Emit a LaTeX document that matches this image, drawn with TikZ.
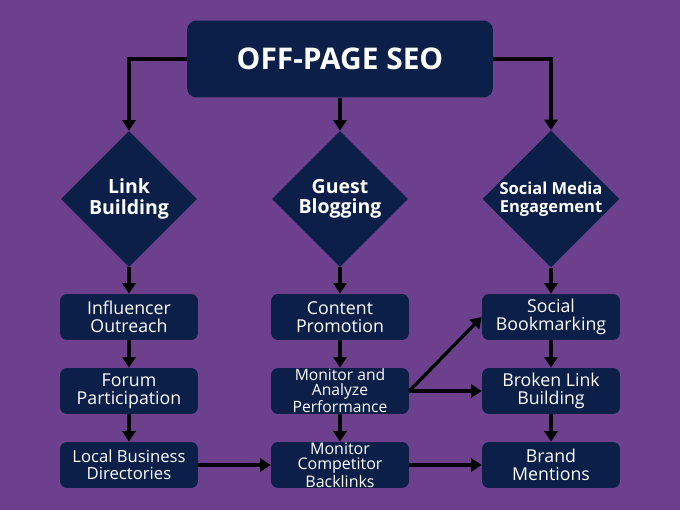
\documentclass[tikz,border=0pt]{standalone}
\usepackage{fontspec}
\setmainfont{Open Sans}
\usepackage{tikz}
\usetikzlibrary{arrows.meta,shapes.geometric}
\usepackage{xcolor}
\definecolor{bgpurple}{RGB}{108,64,140}
\definecolor{navyblue}{RGB}{11,31,72}

\begin{document}
\begin{tikzpicture}[x=0.02cm,y=-0.02cm,>={Triangle[length=6pt,width=7.5pt]},
  flow/.style={->,line width=1.9pt,black},
  task/.style={fill=navyblue,rounded corners=4pt,minimum width=2.76cm,minimum height=0.92cm,
    inner sep=0pt,text=white,align=center,font=\fontsize{10.1}{10.4}\selectfont},
  choice/.style={diamond,fill=navyblue,shape aspect=1,minimum size=2.72cm,inner sep=0pt,
    text=white,align=center,font=\bfseries\fontsize{11.1}{11.6}\selectfont}]
  % Background
  \fill[bgpurple] (0,0) rectangle (680,510);
  \useasboundingbox (0,0) rectangle (680,510);

  % Title
  \node[fill=navyblue,rounded corners=5.5pt,minimum width=6.12cm,minimum height=1.54cm,
        text=white,font=\bfseries\fontsize{17}{20}\selectfont] (seo) at (340,59) {OFF-PAGE SEO};

  % Strategies
  \node[choice] (link) at (129,199) {Link\\Building};
  \node[choice] (guest) at (340,199) {Guest\\Blogging};
  \node[choice,font=\bfseries\fontsize{9.4}{10}\selectfont] (social) at (551,199) {Social Media\\Engagement};

  % Tasks
  \node[task] (influencer) at (129,317) {Influencer\\Outreach};
  \node[task] (forum) at (129,391) {Forum\\Participation};
  \node[task,font=\fontsize{9.5}{9.8}\selectfont] (local) at (129,465) {Local Business\\Directories};
  \node[task] (content) at (340,317) {Content\\Promotion};
  \node[task,font=\fontsize{8.9}{8.4}\selectfont] (analyze) at (340,391) {Monitor and\\Analyze\\Performance};
  \node[task,font=\fontsize{9.1}{8.6}\selectfont] (competitor) at (340,465) {Monitor\\Competitor\\Backlinks};
  \node[task] (bookmark) at (551,317) {Social\\Bookmarking};
  \node[task] (broken) at (551,391) {Broken Link\\Building};
  \node[task] (brand) at (551,465) {Brand\\Mentions};

  % Arrows
  \draw[flow] (seo.west) -| (link.north);
  \draw[flow] (seo.south) -- (guest.north);
  \draw[flow] (seo.east) -| (social.north);
  \draw[flow] (link) -- (influencer);
  \draw[flow] (influencer) -- (forum);
  \draw[flow] (forum) -- (local);
  \draw[flow] (guest) -- (content);
  \draw[flow] (content) -- (analyze);
  \draw[flow] (analyze) -- (competitor);
  \draw[flow] (social) -- (bookmark);
  \draw[flow] (bookmark) -- (broken);
  \draw[flow] (broken) -- (brand);
  \draw[flow] (local) -- (competitor);
  \draw[flow] (competitor) -- (brand);
  \draw[flow] (analyze.east) -- (broken.west);
  \draw[flow] (analyze.east) -- (bookmark.west);
\end{tikzpicture}
\end{document}
